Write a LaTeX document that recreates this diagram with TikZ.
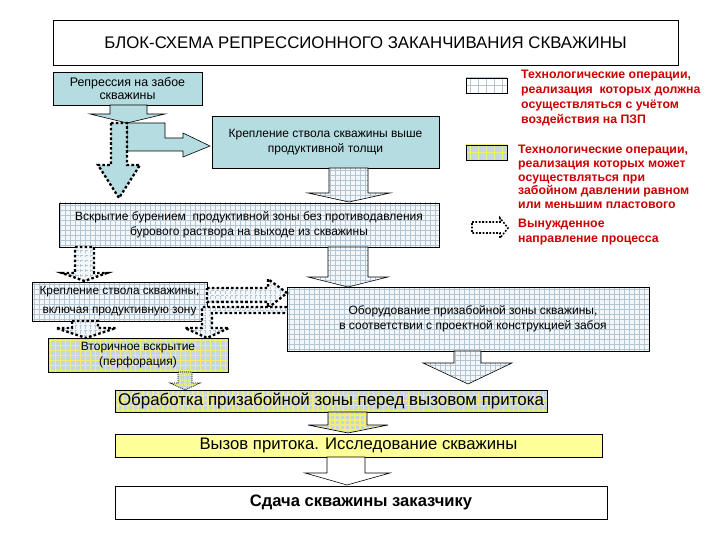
\documentclass[tikz,border=0pt]{standalone}
\usepackage{fontspec}
\setmainfont{Liberation Sans}
\definecolor{tealc}{HTML}{B5DCE0}
\definecolor{gridbgc}{HTML}{F3F7F9}
\definecolor{gridln}{HTML}{B4C6D4}
\definecolor{ygbg}{HTML}{C6D6DE}
\definecolor{ygln}{HTML}{EEEE78}
\definecolor{yel}{HTML}{FFFF99}
\definecolor{legred}{HTML}{CC0000}
\newcommand\fsz[2]{\fontsize{#1}{#2}\selectfont}
\newcommand\bx[7]{\node[#6, minimum width={(#4-#2)*1pt}, minimum height={(#5-#3)*1pt}] (#1) at ({(#2+#4)/2},{(#3+#5)/2}) {#7};}
\tikzset{
  box/.style={draw, line width=0.8pt, inner sep=0pt, align=center},
  tealfill/.style={fill=tealc},
  gridfill/.style={fill=gridbgc, path picture={\draw[gridln, line width=0.45pt] ([shift={(-10pt,-10pt)}]path picture bounding box.south west) grid[step=5pt] ([shift={(10pt,10pt)}]path picture bounding box.north east);}},
  ygfill/.style={fill=ygbg, path picture={\draw[ygln, line width=1.2pt] ([shift={(-10pt,-10pt)}]path picture bounding box.south west) grid[step=5pt] ([shift={(10pt,10pt)}]path picture bounding box.north east);}},
  solidarrow/.style={draw, line width=0.6pt, line join=miter},
  dotarrow/.style={draw, line width=2.3pt, dash pattern=on 2.6pt off 2.2pt},
  thindot/.style={draw, line width=0.7pt, dash pattern=on 1pt off 1pt},
  legtext/.style={anchor=west, align=left, inner sep=0pt, text=legred},
}
\begin{document}
\begin{tikzpicture}[x=1pt, y=-1pt]
\useasboundingbox[fill=white] (0,0) rectangle (720,540);

% boxes
\bx{title}{53}{20}{678}{65}{box, fill=white, font=\fsz{16.8}{18}}{БЛОК-СХЕМА РЕПРЕССИОННОГО ЗАКАНЧИВАНИЯ СКВАЖИНЫ}
\bx{rep}{53}{72}{202}{105}{box, tealfill, font=\fsz{12.4}{12.8}}{Репрессия на забое\\скважины}
\bx{kv}{212}{116}{439}{168}{box, tealfill, font=\fsz{12}{14.7}}{Крепление ствола скважины выше\\продуктивной толщи}
\bx{vs}{59}{203}{439}{247}{box, gridfill, font=\fsz{12}{15}}{Вскрытие бурением \ продуктивной зоны без противодавления\\бурового раствора на выходе из скважины}
\bx{ki}{32}{282}{207}{321}{box, gridfill, font=\fsz{11.8}{19}}{Крепление ствола скважины,\\включая продуктивную зону}
\bx{ob}{287}{287}{649}{351}{box, gridfill, font=\fsz{12}{14.5}}{\hspace*{10pt}Оборудование призабойной зоны скважины,\\\hspace*{10pt}в соответствии с проектной конструкцией забоя}
\bx{vt}{48}{338}{228}{372}{box, ygfill, font=\fsz{12}{15}}{Вторичное вскрытие\\(перфорация)}
\bx{obr}{115}{390}{547}{412}{box, ygfill, font=\fsz{16.9}{18}}{Обработка призабойной зоны перед вызовом притока}
\bx{vz}{115}{434}{602}{457}{box, fill=yel, font=\fsz{16.7}{18}}{Вызов притока. Исследование скважины}
\bx{sd}{115}{486}{607}{519}{box, fill=white, font=\fsz{16.6}{18}\bfseries}{Сдача скважины заказчику}

% block arrows
\path[solidarrow, tealfill] (110,105) -- (147,105) -- (147,114) -- (165,114) -- (127,123) -- (90,114) -- (110,114) -- cycle;
\path[solidarrow, tealfill] (127,123) -- (165,123) -- (165,138) -- (183,138) -- (183,133) -- (210,146) -- (183,157) -- (183,151) -- (127,151) -- cycle;
\path[dotarrow, tealfill] (111,123) -- (127,123) -- (127,165) -- (140,165) -- (119,198) -- (98,165) -- (111,165) -- cycle;
\path[solidarrow, gridfill] (329,168) -- (368,168) -- (368,193) -- (390,193) -- (349,202) -- (308,193) -- (329,193) -- cycle;
\path[dotarrow, gridfill] (75,247) -- (94,247) -- (94,273) -- (107,273) -- (84.5,281) -- (62,273) -- (75,273) -- cycle;
\path[solidarrow, gridfill] (328,247) -- (368,247) -- (368,277) -- (388,277) -- (348,287) -- (308,277) -- (328,277) -- cycle;
\path[dotarrow, gridfill] (207,288) -- (268,288) -- (268,279) -- (287,293) -- (268,308) -- (268,302) -- (207,302) -- cycle;
\path[dotarrow, gridfill] (287,307) -- (202,307) -- (202,328) -- (185,328) -- (207,338) -- (229,328) -- (212,328) -- (212,313) -- (287,313);
\path[dotarrow, gridfill] (72,321) -- (98,321) -- (98,328) -- (116,328) -- (86,338) -- (56,328) -- (72,328) -- cycle;
\path[solidarrow, gridfill] (454,351) -- (481,351) -- (481,363) -- (512,363) -- (468,384) -- (423,363) -- (454,363) -- cycle;
\path[thindot, ygfill] (178,372) -- (192,372) -- (192,383) -- (200,383) -- (185,390) -- (170,383) -- (178,383) -- cycle;
\path[solidarrow, ygfill] (328,412) -- (367,412) -- (367,425) -- (388,425) -- (348,433) -- (308,425) -- (328,425) -- cycle;
\path[solidarrow, fill=white] (327,457) -- (365,457) -- (365,473) -- (390,473) -- (347,485) -- (305,473) -- (327,473) -- cycle;

% legend
\bx{lg1}{466}{78}{507}{93}{draw, line width=0.6pt, inner sep=0pt, fill=white, path picture={\draw[gridln, line width=0.45pt] ([shift={(-10pt,-10pt)}]path picture bounding box.south west) grid[step=8pt] ([shift={(10pt,10pt)}]path picture bounding box.north east);}}{}
\bx{lg2}{466}{145}{507}{160}{draw, line width=0.6pt, inner sep=0pt, fill=ygbg, path picture={\draw[ygln, line width=1.2pt] ([shift={(-10pt,-10pt)}]path picture bounding box.south west) grid[step=8pt] ([shift={(10pt,10pt)}]path picture bounding box.north east);}}{}
\path[draw, line width=1.6pt, dash pattern=on 1.8pt off 1.6pt, fill=white] (472,222) -- (500,222) -- (500,218) -- (508,228) -- (500,238) -- (500,233) -- (472,233) -- cycle;
\node[legtext, font=\fsz{12.3}{15}\bfseries] (lt1) at (521,98) {Технологические операции,\\реализация \ которых должна\\осуществляться с учётом\\воздействия на ПЗП};
\node[legtext, font=\fsz{12.3}{13.6}\bfseries] (lt2) at (518,177) {Технологические операции,\\реализация которых может\\осуществляться при\\забойном давлении равном\\или меньшим пластового};
\node[legtext, font=\fsz{12.3}{15.5}\bfseries] (lt3) at (518,232) {Вынужденное\\направление процесса};
\end{tikzpicture}
\end{document}
